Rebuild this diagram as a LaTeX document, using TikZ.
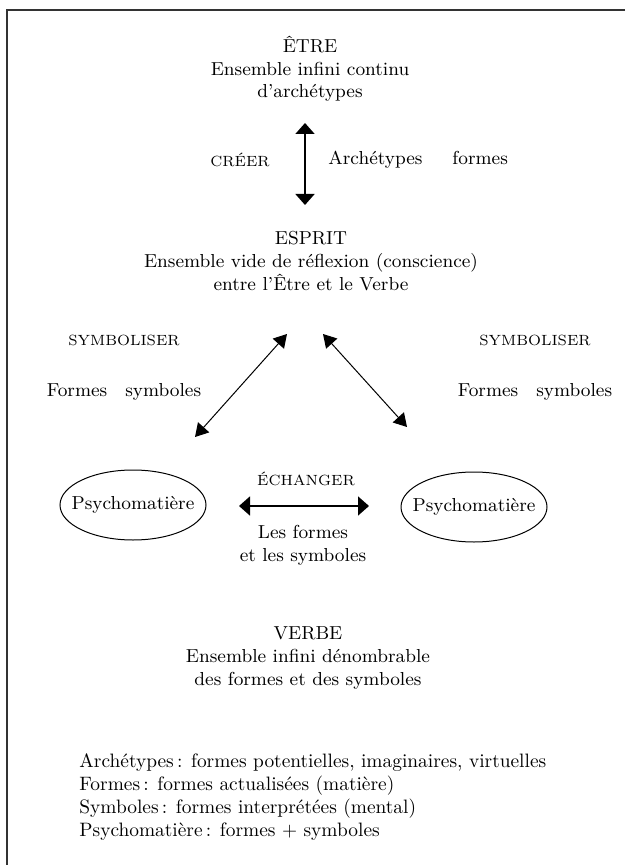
\documentclass[tikz,border=0pt]{standalone}
\usepackage{tikz}
\usetikzlibrary{positioning}
\usetikzlibrary{arrows.meta}
\usetikzlibrary{shapes.geometric}

\begin{document}
\begin{tikzpicture}[x=0.5pt, y=-0.5pt,
    texte/.style={font=\fontsize{9.4}{11.3}\selectfont, align=center, inner sep=0pt},
    verbe/.style={font=\fontsize{7.4}{9}\selectfont, inner sep=0pt},
    psy/.style={ellipse, draw, line width=0.5pt, minimum width=73pt,
        minimum height=35pt, inner sep=0pt, font=\fontsize{9.4}{11.3}\selectfont},
    fleche/.style={{Triangle[length=5.5pt,width=9.5pt]}-{Triangle[length=5.5pt,width=9.5pt]},
        line width=0.85pt},
    diag/.style={{Triangle[length=6.5pt,width=7.5pt]}-{Triangle[length=6.5pt,width=7.5pt]},
        line width=0.5pt}]
    \useasboundingbox (0,0) rectangle (625,865);
    \draw[line width=1.2pt, black!80] (625,10) -- (7,10) -- (7,865);

    \node[texte] (etre) at (310,69)
    {ÊTRE\\Ensemble infini continu\\d’archétypes};
    \node[texte] (esprit) at (311,261)
    {ESPRIT\\Ensemble vide de réflexion (conscience)\\entre l’Être et le Verbe};
    \node[texte] (verbetxt) at (308,658)
    {VERBE\\Ensemble infini dénombrable\\des formes et des symboles};

    \coordinate (creerhaut) at (305,123);
    \coordinate (creerbas) at (305,205);
    \draw[fleche] (creerhaut) -- (creerbas);
    \node[verbe] (creer) at (240,160) {CRÉER};
    \node[texte, anchor=west] (archformes) at (328,160)
    {Archétypes\hspace{15pt}formes};

    \node[verbe] (symbg) at (124,340) {SYMBOLISER};
    \node[verbe] (symbd) at (535,340) {SYMBOLISER};
    \node[texte] (fsg) at (124,392) {Formes\hspace{9pt}symboles};
    \node[texte] (fsd) at (535,392) {Formes\hspace{9pt}symboles};

    \coordinate (diagghaut) at (287,334);
    \coordinate (diaggbas) at (195,437);
    \coordinate (diagdhaut) at (323,334);
    \coordinate (diagdbas) at (407,427);
    \draw[diag] (diagghaut) -- (diaggbas);
    \draw[diag] (diagdhaut) -- (diagdbas);

    \node[psy] (psyg) at (133,505) {\makebox[50pt][c]{Psychomatière}};
    \node[psy] (psyd) at (474,507) {\makebox[50pt][c]{Psychomatière}};

    \coordinate (echg) at (239,506);
    \coordinate (echd) at (369,506);
    \draw[fleche] (echg) -- (echd);
    \node[verbe] (echanger) at (306,479) {ÉCHANGER};
    \node[texte] (formsymb) at (303,545) {Les formes\\et les symboles};

    \node[texte, align=left, anchor=north west,
        font=\fontsize{9.7}{11.5}\selectfont] (legende) at (79,753)
    {Archétypes\,: formes potentielles, imaginaires, virtuelles\\
     Formes\,: formes actualisées (matière)\\
     Symboles\,: formes interprétées (mental)\\
     Psychomatière\,: formes + symboles};
\end{tikzpicture}
\end{document}
